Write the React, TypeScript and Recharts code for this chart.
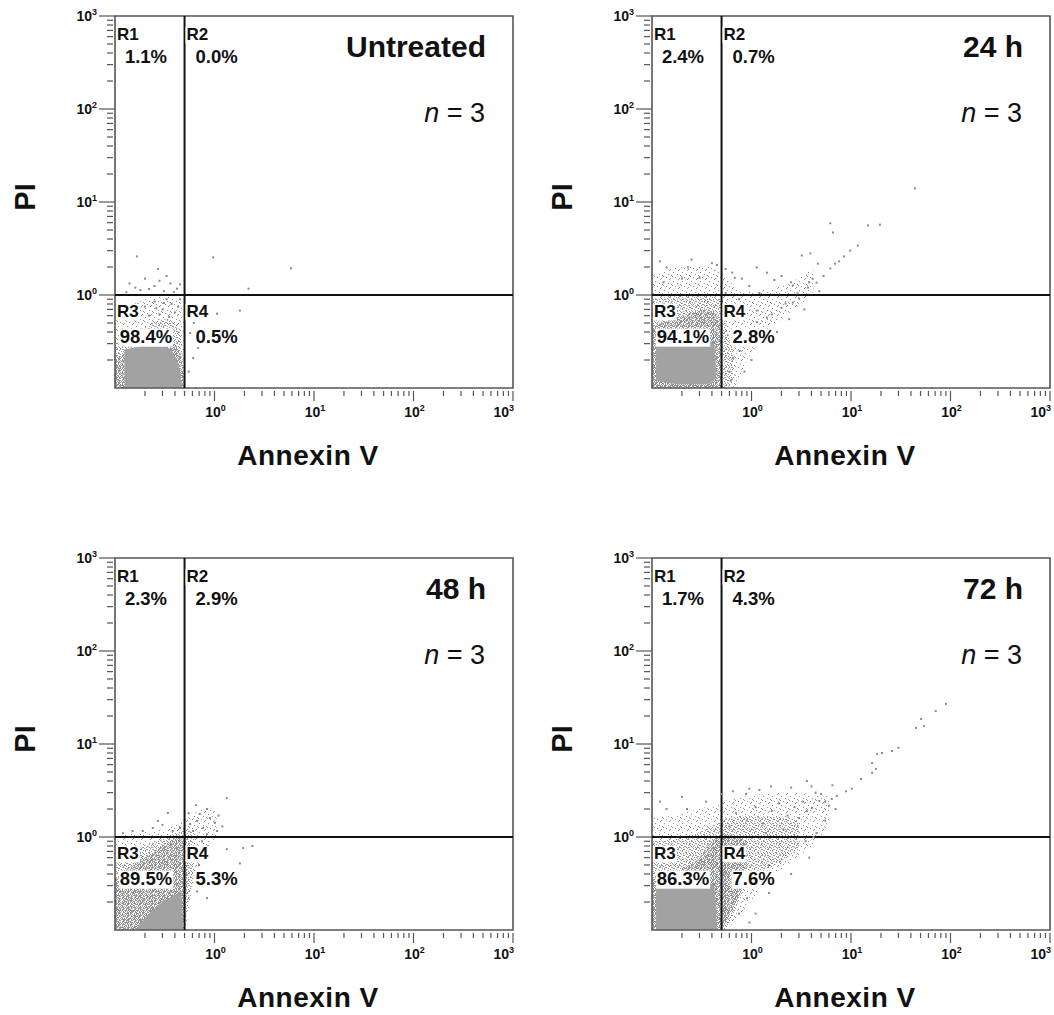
import React from "react";
import {
  ComposedChart,
  Area,
  Scatter,
  XAxis,
  YAxis,
  ReferenceLine,
  ReferenceArea,
} from "recharts";

type Band = [number, number, number][]; // [annexin, PI low, PI high]
type Evt = [number, number]; // [annexin, PI]

// quadrant gates
const annexinGate = 0.5;
const piGate = 1.0;

const titles = ["Untreated", "24 h", "48 h", "72 h"];
const r1Pct = [1.1, 2.4, 2.3, 1.7];
const r2Pct = [0.0, 0.7, 2.9, 4.3];
const r3Pct = [98.4, 94.1, 89.5, 86.3];
const r4Pct = [0.5, 2.8, 5.3, 7.6];

// log axis ticks: decades + minor steps
const decades = [0.1, 1, 10, 100, 1000];
const minorSteps = [2, 3, 4, 5, 6, 7, 8, 9];
const exponentLabels: Record<string, string> = { "1": "0", "10": "1", "100": "2", "1000": "3" };

// --- Untreated ---
const coreUntreated: Band = [
  [0.125, 0.1, 0.26], [0.2, 0.1, 0.28], [0.3, 0.1, 0.28], [0.36, 0.1, 0.26],
  [0.41, 0.1, 0.21], [0.45, 0.1, 0.15], [0.475, 0.1, 0.1],
];
const heavyUntreated: Band = [
  [0.1, 0.1, 0.2], [0.2, 0.1, 0.3], [0.35, 0.1, 0.32], [0.45, 0.1, 0.25], [0.49, 0.1, 0.12],
];
const denseUntreated: Band = [
  [0.1, 0.1, 0.3], [0.2, 0.1, 0.45], [0.3, 0.1, 0.55], [0.4, 0.1, 0.5],
  [0.46, 0.1, 0.35], [0.49, 0.1, 0.15],
];
const hazeUntreated: Band = [
  [0.1, 0.1, 0.55], [0.15, 0.1, 0.8], [0.25, 0.1, 0.95], [0.35, 0.1, 0.95],
  [0.45, 0.1, 0.85], [0.495, 0.1, 0.5],
];
const eventsUntreated: Evt[] = [
  [0.166, 2.6], [0.33, 1.6], [0.2, 1.5], [0.28, 1.42], [0.14, 1.33], [0.36, 1.33],
  [0.18, 1.13], [0.22, 1.16], [0.42, 1.17], [0.13, 1.07], [0.25, 1.25], [0.31, 1.1],
  [0.39, 1.08], [0.45, 1.3], [0.16, 1.2], [0.27, 1.9],
  [0.97, 2.54], [5.87, 1.94], [2.2, 1.17],
  [1.06, 0.63], [1.8, 0.68], [0.61, 0.21], [0.68, 0.27], [0.57, 0.39], [0.55, 0.15], [0.62, 0.5],
  [0.2, 0.75], [0.25, 0.85], [0.3, 0.7], [0.33, 0.9], [0.37, 0.8], [0.28, 0.62], [0.4, 0.65],
  [0.22, 0.6], [0.45, 0.9], [0.17, 0.8], [0.35, 0.58], [0.43, 0.75], [0.26, 0.72], [0.31, 0.82],
];

// --- 24 h ---
const core24: Band = [
  [0.11, 0.12, 0.3], [0.2, 0.11, 0.32], [0.35, 0.11, 0.32], [0.42, 0.12, 0.3], [0.44, 0.13, 0.14],
];
const heavy24: Band = [
  [0.1, 0.1, 0.45], [0.2, 0.1, 0.6], [0.35, 0.1, 0.7], [0.47, 0.1, 0.6], [0.5, 0.1, 0.3],
];
const dense24: Band = [
  [0.1, 0.1, 0.9], [0.2, 0.1, 1.0], [0.35, 0.1, 1.0], [0.48, 0.1, 0.9], [0.55, 0.1, 0.5],
  [0.65, 0.12, 0.25],
];
const haze24: Band = [
  [0.1, 0.1, 1.6], [0.2, 0.1, 2.0], [0.35, 0.1, 2.0], [0.5, 0.1, 1.7], [0.65, 0.1, 1.3],
  [0.9, 0.2, 1.1], [1.4, 0.4, 1.15], [2.2, 0.6, 1.3], [3.2, 0.8, 1.6], [4.2, 1.1, 1.9],
];
const events24: Evt[] = [
  [44, 14], [6.2, 5.9], [14.8, 5.6], [19.5, 5.7], [6.6, 4.7], [3.2, 2.66], [3.9, 2.8],
  [4.65, 2.17], [6.2, 1.93], [6.9, 2.17], [7.6, 2.3], [9.8, 3.0], [11.7, 3.4], [4.5, 1.36],
  [3.7, 1.2], [2.9, 1.04], [5.3, 1.6], [8.5, 2.6],
  [0.14, 1.98], [0.23, 1.98], [0.4, 2.2], [0.64, 1.74], [1.13, 1.98], [1.43, 1.74], [0.68, 1.53],
  [0.3, 1.53], [0.2, 1.5], [0.13, 1.37], [2.5, 1.37], [2.6, 1.27], [3.8, 1.37], [4.1, 1.5],
  [0.82, 0.73], [1.13, 0.68], [1.43, 0.57], [1.6, 0.62], [2.0, 0.73], [2.2, 0.81], [2.6, 0.83],
  [3.0, 0.92], [1.13, 0.51], [0.9, 0.42], [0.76, 0.25], [0.65, 0.21], [0.6, 0.15], [0.62, 0.12],
  [0.94, 0.3], [0.71, 0.37],
  [0.12, 2.3], [0.25, 2.4], [0.45, 2.1], [0.55, 1.9], [0.8, 1.5], [0.95, 1.25], [1.7, 1.45],
  [2.0, 1.6], [0.75, 0.9], [1.2, 1.05], [0.55, 1.05], [1.8, 0.4], [2.4, 0.55], [0.85, 0.15],
  [1.0, 0.2], [4.8, 1.1], [3.4, 0.7],
];

// --- 48 h ---
const core48: Band = [
  [0.17, 0.1, 0.11], [0.22, 0.1, 0.15], [0.3, 0.1, 0.2], [0.4, 0.1, 0.24], [0.46, 0.1, 0.26],
  [0.485, 0.1, 0.1],
];
const heavy48: Band = [
  [0.1, 0.1, 0.35], [0.15, 0.1, 0.5], [0.25, 0.1, 0.7], [0.35, 0.1, 0.9], [0.45, 0.1, 1.0],
  [0.5, 0.15, 0.9], [0.53, 0.3, 0.7],
];
const dense48: Band = [
  [0.1, 0.1, 0.6], [0.2, 0.1, 0.8], [0.3, 0.1, 0.95], [0.4, 0.1, 1.1], [0.48, 0.1, 1.15],
  [0.55, 0.2, 1.2], [0.62, 0.4, 1.1],
];
const haze48: Band = [
  [0.1, 0.1, 1.0], [0.2, 0.1, 1.15], [0.35, 0.1, 1.25], [0.5, 0.1, 1.5], [0.6, 0.3, 1.75],
  [0.75, 0.55, 2.0], [0.9, 0.8, 2.1], [1.05, 1.05, 1.9],
];
const events48: Evt[] = [
  [1.33, 2.62], [0.84, 2.0], [0.71, 1.77], [0.9, 1.6], [0.67, 1.49], [0.57, 1.38], [1.01, 1.42],
  [0.77, 1.25], [1.06, 1.16], [0.61, 1.16], [0.84, 1.07],
  [0.34, 1.81], [0.27, 1.49], [0.19, 1.16], [0.15, 1.16], [0.38, 1.16], [0.45, 1.25], [0.24, 1.25],
  [1.33, 0.74], [1.94, 0.76], [2.4, 0.8], [1.8, 0.52], [0.86, 0.8], [0.67, 0.26], [0.84, 0.22],
  [0.12, 1.1], [0.3, 1.35], [0.55, 1.8], [0.65, 2.2], [1.1, 1.7], [1.2, 1.3], [0.7, 0.5],
  [0.62, 0.7], [0.75, 0.9],
];

// --- 72 h ---
const core72: Band = [
  [0.11, 0.1, 0.3], [0.2, 0.1, 0.32], [0.35, 0.1, 0.32], [0.42, 0.1, 0.3], [0.45, 0.1, 0.1],
];
const heavy72: Band = [
  [0.1, 0.1, 0.35], [0.2, 0.1, 0.45], [0.3, 0.1, 0.6], [0.4, 0.1, 0.9], [0.48, 0.1, 1.05],
  [0.55, 0.12, 1.1], [0.7, 0.2, 1.0], [0.9, 0.35, 0.9],
];
const dense72: Band = [
  [0.1, 0.1, 0.9], [0.25, 0.1, 1.05], [0.45, 0.1, 1.4], [0.6, 0.12, 1.6], [0.8, 0.25, 1.7],
  [1.2, 0.4, 1.7], [2.0, 0.55, 1.6], [3.0, 0.75, 1.5],
];
const haze72: Band = [
  [0.1, 0.1, 1.6], [0.3, 0.1, 2.0], [0.5, 0.1, 2.4], [0.8, 0.15, 2.7], [1.3, 0.3, 2.9],
  [2.0, 0.45, 3.0], [3.2, 0.65, 3.0], [4.5, 0.9, 2.8], [6.0, 1.3, 2.8],
];
const events72: Evt[] = [
  [90, 27], [71, 22.6], [50.6, 18.6], [54, 15.6], [45, 14.9], [30, 9.1], [25.8, 8.4], [20.5, 8.0],
  [18.3, 7.8], [16.3, 6.25], [17.8, 5.4], [16.3, 4.9], [12.6, 4.2], [3.6, 4.0], [10.2, 3.3],
  [8.9, 3.1], [7.2, 2.76], [6.4, 2.56], [6.0, 2.15], [4.8, 2.44], [4.05, 2.05], [3.0, 1.6],
  [1.57, 3.5], [0.88, 2.9], [0.225, 2.0], [0.14, 2.0],
  [0.6, 1.3], [0.7, 1.8], [0.9, 1.5], [1.1, 2.1], [1.3, 1.4], [1.6, 1.9], [1.9, 2.3], [2.3, 1.7],
  [2.7, 2.1], [3.3, 2.4], [3.6, 1.9], [2.1, 1.2], [1.4, 1.1], [5.0, 2.9], [5.5, 2.4], [4.4, 3.0],
  [3.5, 0.9], [4.2, 1.0], [1.2, 0.35], [0.9, 0.22], [1.5, 0.5], [0.75, 0.15],
  [0.12, 2.4], [0.2, 2.7], [0.35, 2.4], [0.5, 2.9], [0.65, 3.1], [0.95, 3.3], [1.2, 3.2],
  [2.5, 3.4], [4.0, 3.5], [6.5, 3.6], [7.0, 2.0], [5.5, 1.5], [4.5, 1.1], [3.8, 0.6],
  [2.5, 0.4], [1.5, 0.25], [1.1, 0.15], [0.95, 0.12],
];

const panels = [
  { core: coreUntreated, heavy: heavyUntreated, dense: denseUntreated, haze: hazeUntreated, events: eventsUntreated },
  { core: core24, heavy: heavy24, dense: dense24, haze: haze24, events: events24 },
  { core: core48, heavy: heavy48, dense: dense48, haze: haze48, events: events48 },
  { core: core72, heavy: heavy72, dense: dense72, haze: haze72, events: events72 },
];

const axisTicks = [
  ...decades.slice(1),
  ...decades.slice(0, 4).flatMap((d) => minorSteps.map((m) => +(d * m).toPrecision(3))),
].sort((a, b) => a - b);

// layout of one panel
const CHART_W = 537;
const CHART_H = 542;
const PLOT_L = 115;
const PLOT_T = 16;
const PLOT_W = 398;
const PLOT_H = 372;
const PLOT_R = PLOT_L + PLOT_W;
const PLOT_B = PLOT_T + PLOT_H;
const FONT = "'Liberation Sans', Arial, sans-serif";
const INK = "#111";
const TICK = "#555";

const gateX = PLOT_L + (PLOT_W * (Math.log10(annexinGate) + 1)) / 4;
const gateY = PLOT_T + (PLOT_H * (3 - Math.log10(piGate))) / 4;

const toRows = (b: Band) => b.map(([x, lo, hi]) => ({ x, r: [lo, hi] }));
const toPts = (e: Evt[]) => e.map(([x, y]) => ({ x, y }));

function XTick(props: any) {
  const { x, y, payload } = props;
  const exp = exponentLabels[String(payload.value)];
  const last = payload.value === 1000;
  return (
    <g>
      <line x1={x} x2={x} y1={y + 3} y2={y + (exp ? 13 : 8)} stroke={TICK} strokeWidth={1.2} />
      {exp && (
        <text
          x={x + 1}
          y={y + 29}
          textAnchor={last ? "end" : "middle"}
          fontSize={14}
          fontWeight="bold"
          fill={INK}
          fontFamily={FONT}
        >
          10<tspan dy={-6} fontSize={9}>{exp}</tspan>
        </text>
      )}
    </g>
  );
}

function YTick(props: any) {
  const { x, y, payload } = props;
  const exp = exponentLabels[String(payload.value)];
  return (
    <g>
      {exp ? (
        <line x1={x - 16} x2={x} y1={y} y2={y} stroke={TICK} strokeWidth={1.2} />
      ) : (
        <line x1={x - 8} x2={x - 2} y1={y} y2={y} stroke={TICK} strokeWidth={1.2} />
      )}
      {exp && (
        <text x={x - 18} y={y + 5} textAnchor="end" fontSize={14} fontWeight="bold" fill={INK} fontFamily={FONT}>
          10<tspan dy={-6} fontSize={9}>{exp}</tspan>
        </text>
      )}
    </g>
  );
}

const CHAR_W: Record<string, number> = { R: 0.722, ".": 0.278, "%": 0.889 };
const textWidth = (s: string, size: number) =>
  s.split("").reduce((w, c) => w + (CHAR_W[c] ?? 0.556), 0) * size;

function Tag({ x, y, text, size, middle }: { x: number; y: number; text: string; size: number; middle?: boolean }) {
  const w = textWidth(text, size);
  const left = middle ? x - w / 2 : x;
  return (
    <g>
      <rect x={left - 1} y={y - size * 0.78} width={w + 2} height={size * 0.98} fill="#fff" />
      <text x={left} y={y} fontSize={size} fontWeight="bold" fill={INK} fontFamily={FONT}>
        {text}
      </text>
    </g>
  );
}

// speckle textures for the event clouds, light to heavy
const speckleTiles: { name: string; w: number; h: number; dots: number[][] }[] = [
  { name: "haze", w: 9, h: 9, dots: [[1, 2], [6, 0], [8, 5], [3, 7], [5, 4], [0, 6], [7, 8]] },
  { name: "dense", w: 6, h: 6, dots: [[0, 0], [3, 1], [5, 2], [1, 3], [4, 4], [2, 5], [2, 1], [5, 5]] },
  { name: "heavy", w: 4, h: 4, dots: [[0, 0], [2, 0], [1, 1], [3, 1], [0, 2], [2, 3], [3, 2]] },
];

function Speckles({ id }: { id: string }) {
  return (
    <defs>
      {speckleTiles.map((t) => (
        <pattern key={t.name} id={`${id}-${t.name}`} width={t.w} height={t.h} patternUnits="userSpaceOnUse">
          {t.dots.map(([a, b], i) => (
            <rect key={i} x={a} y={b} width={1} height={1} fill="#939393" />
          ))}
        </pattern>
      ))}
    </defs>
  );
}

function Panel({ idx }: { idx: number }) {
  const p = panels[idx];
  const id = `spk${idx}`;
  const layers: [Band, string][] = [
    [p.haze, `url(#${id}-haze)`],
    [p.dense, `url(#${id}-dense)`],
    [p.heavy, `url(#${id}-heavy)`],
    [p.core, "#a2a2a2"],
  ];
  const pct = (v: number) => `${v.toFixed(1)}%`;
  return (
    <div style={{ position: "relative", width: CHART_W, height: CHART_H }}>
      <ComposedChart
        width={CHART_W}
        height={CHART_H}
        margin={{ top: PLOT_T, right: CHART_W - PLOT_R, bottom: CHART_H - PLOT_B - 60, left: 0 }}
      >
        <Speckles id={id} />
        <XAxis
          dataKey="x"
          type="number"
          scale="log"
          domain={[0.1, 1000]}
          allowDataOverflow
          ticks={axisTicks}
          interval={0}
          height={60}
          tickSize={0}
          tickMargin={0}
          axisLine={false}
          tick={<XTick />}
        />
        <YAxis
          type="number"
          scale="log"
          domain={[0.1, 1000]}
          allowDataOverflow
          ticks={axisTicks}
          interval={0}
          width={PLOT_L}
          tickSize={0}
          tickMargin={0}
          axisLine={false}
          tick={<YTick />}
        />
        {layers
          .filter(([b]) => b.length > 0)
          .map(([b, fill], i) => (
            <Area
              key={i}
              data={toRows(b)}
              dataKey="r"
              type="monotone"
              stroke="none"
              fill={fill}
              fillOpacity={1}
              dot={false}
              activeDot={false}
              isAnimationActive={false}
            />
          ))}
        <Scatter
          data={toPts(p.events)}
          dataKey="y"
          isAnimationActive={false}
          shape={(s: any) => <rect x={s.cx - 1} y={s.cy - 1} width={2} height={2} fill="#8a8a8a" />}
        />
        <ReferenceLine x={annexinGate} stroke="#111" strokeWidth={2} />
        <ReferenceLine y={piGate} stroke="#111" strokeWidth={2} />
        <ReferenceArea x1={0.1} x2={1000} y1={0.1} y2={1000} fill="none" stroke="#555" strokeWidth={1.6} />
      </ComposedChart>
      <svg
        width={CHART_W}
        height={CHART_H}
        style={{ position: "absolute", left: 0, top: 0, pointerEvents: "none" }}
      >
        <Tag x={PLOT_L + 2} y={PLOT_T + 24} text="R1" size={17} />
        <Tag x={PLOT_L + 31} y={PLOT_T + 47} text={pct(r1Pct[idx])} size={18.5} middle />
        <Tag x={gateX + 2} y={PLOT_T + 24} text="R2" size={17} />
        <Tag x={gateX + 32} y={PLOT_T + 47} text={pct(r2Pct[idx])} size={18.5} middle />
        <Tag x={PLOT_L + 2} y={gateY + 22} text="R3" size={17} />
        <Tag x={PLOT_L + 31} y={gateY + 48} text={pct(r3Pct[idx])} size={18.5} middle />
        <Tag x={gateX + 2} y={gateY + 22} text="R4" size={17} />
        <Tag x={gateX + 32} y={gateY + 48} text={pct(r4Pct[idx])} size={18.5} middle />
        <text x={PLOT_R - 27} y={PLOT_T + 41} textAnchor="end" fontSize={30} fontWeight="bold" fill={INK} fontFamily={FONT}>
          {titles[idx]}
        </text>
        <text x={PLOT_R - 28} y={PLOT_T + 106} textAnchor="end" fontSize={27} fill={INK} fontFamily={FONT}>
          <tspan fontStyle="italic">n</tspan> = 3
        </text>
        <text
          x={35}
          y={197}
          transform="rotate(-90 35 197)"
          textAnchor="middle"
          fontSize={29}
          fontWeight="bold"
          fill={INK}
          fontFamily={FONT}
        >
          PI
        </text>
        <text x={308} y={PLOT_B + 77} textAnchor="middle" fontSize={28} fontWeight="bold" fill={INK} fontFamily={FONT} letterSpacing={0.5}>
          Annexin V
        </text>
      </svg>
    </div>
  );
}

export default function App() {
  return (
    <div
      style={{
        position: "absolute",
        left: 0,
        top: 0,
        width: 1054,
        height: 1015,
        background: "#fff",
        display: "grid",
        gridTemplateColumns: `${CHART_W}px ${CHART_W}px`,
        gridTemplateRows: `${CHART_H}px ${CHART_H}px`,
      }}
    >
      {[0, 1, 2, 3].map((i) => (
        <Panel key={i} idx={i} />
      ))}
    </div>
  );
}
